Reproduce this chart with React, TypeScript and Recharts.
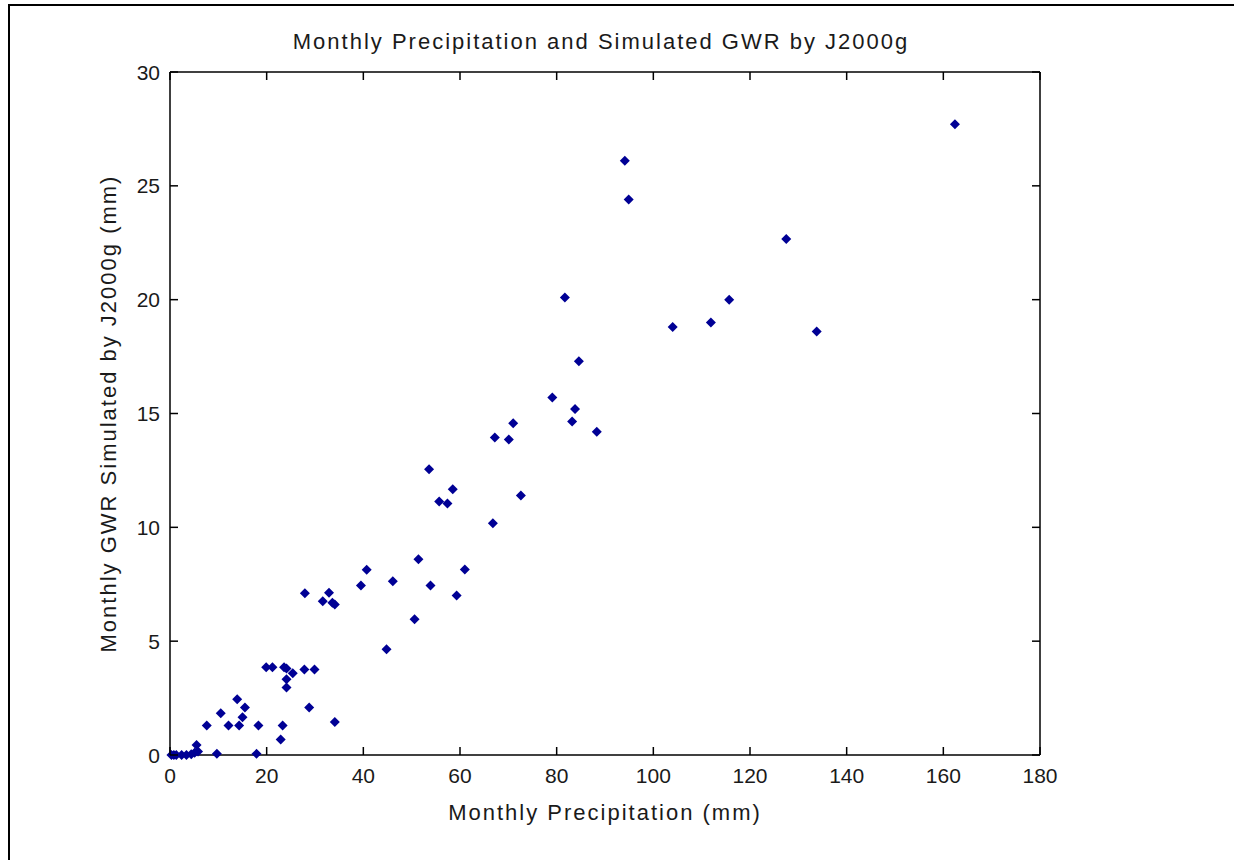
import { ScatterChart, Scatter, XAxis, YAxis, Label } from 'recharts'

// valores (precipitação mensal x recarga simulada)
const precipitacao = [
  0.3, 0.8, 1.3, 2.4, 3.4, 4.4, 5.1, 5.8, 5.5, 7.6, 9.7, 10.5, 12.1, 13.9, 14.3, 15.0, 15.5, 17.9, 18.3,
  19.9, 21.2, 22.9, 23.3, 23.6, 24.1, 24.1, 24.1, 25.4, 27.8, 27.9, 28.8, 29.9, 31.6, 32.9, 33.6, 34.1,
  34.1, 39.5, 40.7, 44.8, 46.1, 50.6, 51.4, 53.6, 53.9, 55.7, 57.4, 58.5, 59.3, 61.0, 66.8, 67.2, 70.1,
  71.0, 72.6, 79.1, 81.7, 83.2, 83.8, 84.6, 88.3, 94.1, 94.9, 104.0, 111.9, 115.7, 127.5, 133.8, 162.4,
]
const recarga = [
  0, 0, 0, 0, 0, 0.03, 0.1, 0.15, 0.44, 1.3, 0.05, 1.83, 1.3, 2.45, 1.3, 1.66, 2.09, 0.05, 1.3,
  3.85, 3.85, 0.68, 1.3, 3.85, 3.8, 3.33, 2.96, 3.59, 3.76, 7.1, 2.09, 3.76, 6.75, 7.13, 6.69, 6.61,
  1.45, 7.44, 8.14, 4.64, 7.63, 5.96, 8.6, 12.55, 7.45, 11.13, 11.05, 11.67, 7.01, 8.15, 10.18, 13.95, 13.86,
  14.57, 11.4, 15.7, 20.1, 14.65, 15.2, 17.3, 14.2, 26.1, 24.4, 18.8, 19.0, 20.0, 22.66, 18.6, 27.7,
]
const ticksX = [0, 20, 40, 60, 80, 100, 120, 140, 160, 180]
const ticksY = [0, 5, 10, 15, 20, 25, 30]

const dados = precipitacao.map((p, i) => ({ p, r: recarga[i] }))

const FONTE = '"Liberation Sans", Arial, sans-serif'
const TEXTO = '#1a1a1a'
const AZUL = '#000095'
const linhaEixo = { stroke: '#000', strokeWidth: 1.5 }
const rotulo = { fontSize: 22, fill: TEXTO, fontFamily: FONTE, letterSpacing: 2, textAnchor: 'middle' as const }

function Losango(props: any) {
  const { cx, cy } = props
  const h = 5
  return <polygon points={`${cx},${cy - h} ${cx + h},${cy} ${cx},${cy + h} ${cx - h},${cy}`} fill={AZUL} />
}

function Nada() {
  return <g />
}

// tickSize=1 e tickMargin=1: o ponto do rótulo fica 2px fora do eixo, ticks para dentro como no matlab
function TickBaixo({ x, y, payload }: any) {
  return (
    <g>
      <line x1={x} y1={y - 2} x2={x} y2={y - 10} {...linhaEixo} />
      <text x={x} y={y + 18} dy="0.36em" textAnchor="middle" fontSize={21} fill={TEXTO} fontFamily={FONTE}>
        {payload.value}
      </text>
    </g>
  )
}

function TickEsquerda({ x, y, payload }: any) {
  return (
    <g>
      <line x1={x + 2} y1={y} x2={x + 10} y2={y} {...linhaEixo} />
      <text x={x - 8} y={y} dy="0.36em" textAnchor="end" fontSize={21} fill={TEXTO} fontFamily={FONTE}>
        {payload.value}
      </text>
    </g>
  )
}

function TickCima({ x, y }: any) {
  return <line x1={x} y1={y + 2} x2={x} y2={y + 10} {...linhaEixo} />
}

function TickDireita({ x, y }: any) {
  return <line x1={x - 2} y1={y} x2={x - 10} y2={y} {...linhaEixo} />
}

export default function App() {
  return (
    <div style={{ position: 'absolute', left: 0, top: 0, width: 1234, height: 860, background: '#fff' }}>
      <div
        style={{
          position: 'absolute',
          left: 8,
          top: 4,
          width: 1226,
          height: 856,
          borderTop: '2px solid #000',
          borderLeft: '2px solid #000',
        }}
      />
      <div
        style={{
          position: 'absolute',
          left: 0,
          width: 1202,
          top: 29,
          textAlign: 'center',
          fontFamily: FONTE,
          fontSize: 22,
          color: TEXTO,
          letterSpacing: 2,
        }}
      >
        Monthly Precipitation and Simulated GWR by J2000g
      </div>
      <ScatterChart width={1234} height={860} margin={{ top: 71, right: 193, bottom: 45, left: 110 }}>
        <XAxis
          xAxisId={0}
          type="number"
          dataKey="p"
          domain={[0, 180]}
          ticks={ticksX}
          interval={0}
          height={60}
          tickSize={1}
          tickMargin={1}
          tickLine={false}
          axisLine={linhaEixo}
          tick={<TickBaixo />}
        >
          <Label value="Monthly Precipitation (mm)" position="center" dy={27} style={rotulo} />
        </XAxis>
        <XAxis
          xAxisId="cima"
          orientation="top"
          type="number"
          dataKey="p"
          domain={[0, 180]}
          ticks={ticksX}
          interval={0}
          height={1}
          tickSize={1}
          tickMargin={1}
          tickLine={false}
          axisLine={linhaEixo}
          tick={<TickCima />}
        />
        <YAxis
          yAxisId={0}
          type="number"
          dataKey="r"
          domain={[0, 30]}
          ticks={ticksY}
          interval={0}
          width={60}
          tickSize={1}
          tickMargin={1}
          tickLine={false}
          axisLine={linhaEixo}
          tick={<TickEsquerda />}
        >
          <Label
            value="Monthly GWR Simulated by J2000g (mm)"
            position="center"
            angle={-90}
            dx={-32}
            style={rotulo}
          />
        </YAxis>
        <YAxis
          yAxisId="direita"
          orientation="right"
          type="number"
          dataKey="r"
          domain={[0, 30]}
          ticks={ticksY}
          interval={0}
          width={1}
          tickSize={1}
          tickMargin={1}
          tickLine={false}
          axisLine={linhaEixo}
          tick={<TickDireita />}
        />
        {/* serie invisivel so para os eixos de cima e da direita ganharem escala */}
        <Scatter data={dados} xAxisId="cima" yAxisId="direita" shape={<Nada />} isAnimationActive={false} />
        <Scatter data={dados} xAxisId={0} yAxisId={0} shape={<Losango />} isAnimationActive={false} />
      </ScatterChart>
    </div>
  )
}
